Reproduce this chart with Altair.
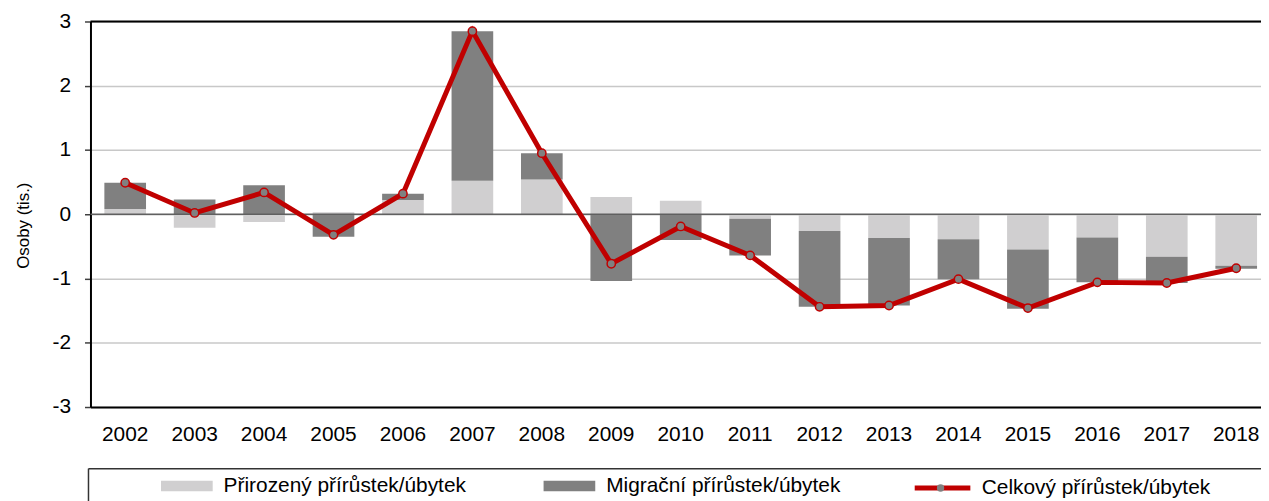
import altair as alt
import pandas as pd

years = ["2002", "2003", "2004", "2005", "2006", "2007", "2008", "2009", "2010",
         "2011", "2012", "2013", "2014", "2015", "2016", "2017", "2018"]
natural = [0.08, -0.21, -0.12, 0.03, 0.22, 0.52, 0.54, 0.27, 0.21,
           -0.07, -0.26, -0.37, -0.39, -0.55, -0.36, -0.66, -0.80]
migration = [0.41, 0.23, 0.45, -0.35, 0.10, 2.33, 0.41, -1.04, -0.40,
             -0.57, -1.18, -1.05, -0.62, -0.92, -0.70, -0.41, -0.05]
total = [0.49, 0.02, 0.34, -0.32, 0.32, 2.85, 0.95, -0.77, -0.19,
         -0.64, -1.44, -1.42, -1.01, -1.46, -1.06, -1.07, -0.84]
y_ticks = [-3, -2, -1, 0, 1, 2, 3]

NAT = "Přirozený přírůstek/úbytek"
MIG = "Migrační přírůstek/úbytek"
TOT = "Celkový přírůstek/úbytek"

LIGHT = "#D0CFD0"
DARK = "#808080"
RED = "#C00000"
FONT = "Liberation Sans"

rows = []
for y, n in zip(years, natural):
    rows.append({"year": y, "series": NAT, "value": n, "k": 0})
for y, m in zip(years, migration):
    rows.append({"year": y, "series": MIG, "value": m, "k": 1})
bars_df = pd.DataFrame(rows)
line_df = pd.DataFrame({"year": years, "value": total,
                        "s": [TOT] * len(years), "p": ["marker"] * len(years)})

x_enc = alt.X(
    "year:N",
    sort=years,
    scale=alt.Scale(range=[0, 1188], paddingInner=0.4, paddingOuter=0.2),
    axis=alt.Axis(title=None, labelAngle=0, ticks=False, domainColor="black",
                  domainWidth=2, labelFontSize=21, labelPadding=17,
                  labelColor="black", labelFont=FONT, grid=False),
)

y_scale = alt.Scale(domain=[-3, 3], nice=False)
y_axis = alt.Axis(values=y_ticks, grid=True, gridColor="#c8c8c8", gridWidth=1.5,
                  domainColor="black", domainWidth=2, tickColor="#404040",
                  tickSize=6, tickWidth=1.5, labelFontSize=21, labelPadding=14,
                  labelExpr="'' + datum.value", labelColor="black", labelFont=FONT,
                  title="Osoby (tis.)", titleFontSize=17, titleFontWeight="normal",
                  titleColor="black", titleFont=FONT, titleX=-58, titleY=205)

bars = alt.Chart(bars_df).mark_bar(opacity=1).encode(
    x=x_enc,
    y=alt.Y("value:Q", stack="zero", scale=y_scale, axis=y_axis),
    color=alt.Color(
        "series:N",
        scale=alt.Scale(domain=[NAT, MIG], range=[LIGHT, DARK]),
        legend=alt.Legend(title=None, orient="none", legendX=71, legendY=441.5,
                          direction="horizontal",
                          symbolType="M-1,-0.2H1V0.2H-1Z", symbolSize=2704,
                          symbolStrokeWidth=0, symbolOpacity=1,
                          labelFontSize=21, labelOffset=11, columnPadding=78,
                          labelColor="black", labelFont=FONT, labelLimit=400,
                          padding=0),
    ),
    order=alt.Order("k:Q"),
)

one = alt.Data(values=[{"a": 0}])

zero_rule = alt.Chart(one).mark_rule(color="#606060", strokeWidth=1.5).encode(
    y=alt.datum(0, scale=y_scale)
)
top_rule = alt.Chart(one).mark_rule(color="black", strokeWidth=2).encode(
    y=alt.datum(3, scale=y_scale)
)

line = alt.Chart(line_df).mark_line(strokeWidth=5).encode(
    x=x_enc,
    y=alt.Y("value:Q", scale=y_scale),
    stroke=alt.Stroke(
        "s:N",
        scale=alt.Scale(domain=[TOT], range=[RED]),
        legend=alt.Legend(title=None, orient="none", legendX=827, legendY=439,
                          symbolType="M-1,0H1", symbolSize=3136,
                          symbolStrokeWidth=5,
                          labelFontSize=21, labelOffset=9, labelColor="black",
                          labelFont=FONT, labelLimit=400, padding=0),
    ),
)

points = alt.Chart(line_df).mark_point(size=70, filled=True, fill="#808080",
                                       stroke=RED, strokeWidth=1.5,
                                       opacity=1).encode(
    x=x_enc,
    y=alt.Y("value:Q", scale=y_scale),
    shape=alt.Shape(
        "p:N",
        scale=alt.Scale(domain=["marker"], range=["circle"]),
        legend=alt.Legend(title=None, orient="none", legendX=850, legendY=464,
                          symbolSize=55, symbolFillColor="#808080",
                          symbolStrokeColor=RED, symbolStrokeWidth=1,
                          symbolOpacity=1, labelExpr="''", labelFontSize=11,
                          padding=0),
    ),
)

box_top = alt.Chart(one).mark_rule(color="#333333", strokeWidth=1.5).encode(
    x=alt.value(-2), x2=alt.value(1180), y=alt.value(450)
)
box_left = alt.Chart(one).mark_rule(color="#333333", strokeWidth=1.5).encode(
    x=alt.value(-2), y=alt.value(450), y2=alt.value(500)
)

chart = alt.layer(bars, zero_rule, top_rule, line, points, box_top, box_left).properties(
    width=1178,
    height=388,
    autosize=alt.AutoSizeParams(type="none"),
    padding={"left": 83, "top": 12, "right": 0, "bottom": 93},
).configure_view(stroke=None).configure(font=FONT)

chart.save("out.html", embed_options={"renderer": "svg", "actions": False})
